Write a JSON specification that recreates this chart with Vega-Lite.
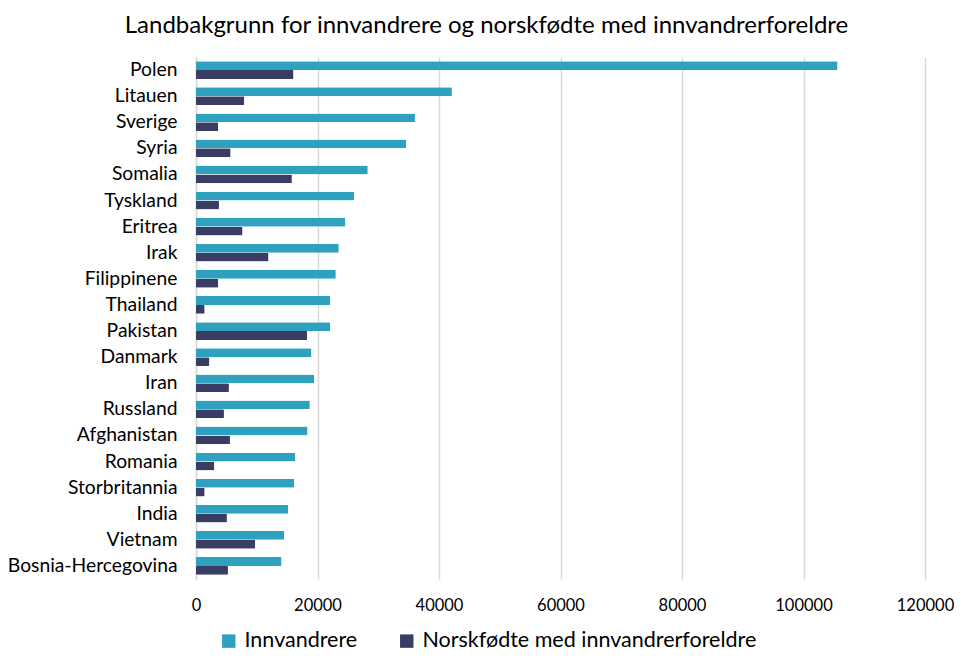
{
  "$schema": "https://vega.github.io/schema/vega-lite/v6.json",
  "width": 729,
  "height": 522,
  "autosize": {"type": "none"},
  "padding": {"left": 196, "top": 57, "right": 45, "bottom": 88},
  "background": "white",
  "title": {
    "text": "Landbakgrunn for innvandrere og norskfødte med innvandrerforeldre",
    "fontSize": 24,
    "font": "Lato",
    "fontWeight": "normal",
    "color": "#000000",
    "anchor": "middle",
    "dx": -74,
    "offset": 19
  },
  "data": {
    "values": [
      {"land": "Polen", "gruppe": "Innvandrere", "antall": 105600},
      {"land": "Polen", "gruppe": "Norskfødte med innvandrerforeldre", "antall": 16040},
      {"land": "Litauen", "gruppe": "Innvandrere", "antall": 42120},
      {"land": "Litauen", "gruppe": "Norskfødte med innvandrerforeldre", "antall": 7940},
      {"land": "Sverige", "gruppe": "Innvandrere", "antall": 36040},
      {"land": "Sverige", "gruppe": "Norskfødte med innvandrerforeldre", "antall": 3660},
      {"land": "Syria", "gruppe": "Innvandrere", "antall": 34610},
      {"land": "Syria", "gruppe": "Norskfødte med innvandrerforeldre", "antall": 5690},
      {"land": "Somalia", "gruppe": "Innvandrere", "antall": 28270},
      {"land": "Somalia", "gruppe": "Norskfødte med innvandrerforeldre", "antall": 15780},
      {"land": "Tyskland", "gruppe": "Innvandrere", "antall": 26010},
      {"land": "Tyskland", "gruppe": "Norskfødte med innvandrerforeldre", "antall": 3780},
      {"land": "Eritrea", "gruppe": "Innvandrere", "antall": 24590},
      {"land": "Eritrea", "gruppe": "Norskfødte med innvandrerforeldre", "antall": 7660},
      {"land": "Irak", "gruppe": "Innvandrere", "antall": 23500},
      {"land": "Irak", "gruppe": "Norskfødte med innvandrerforeldre", "antall": 11930},
      {"land": "Filippinene", "gruppe": "Innvandrere", "antall": 23010},
      {"land": "Filippinene", "gruppe": "Norskfødte med innvandrerforeldre", "antall": 3660},
      {"land": "Thailand", "gruppe": "Innvandrere", "antall": 22070},
      {"land": "Thailand", "gruppe": "Norskfødte med innvandrerforeldre", "antall": 1420},
      {"land": "Pakistan", "gruppe": "Innvandrere", "antall": 22070},
      {"land": "Pakistan", "gruppe": "Norskfødte med innvandrerforeldre", "antall": 18290},
      {"land": "Danmark", "gruppe": "Innvandrere", "antall": 19000},
      {"land": "Danmark", "gruppe": "Norskfødte med innvandrerforeldre", "antall": 2190},
      {"land": "Iran", "gruppe": "Innvandrere", "antall": 19440},
      {"land": "Iran", "gruppe": "Norskfødte med innvandrerforeldre", "antall": 5420},
      {"land": "Russland", "gruppe": "Innvandrere", "antall": 18730},
      {"land": "Russland", "gruppe": "Norskfødte med innvandrerforeldre", "antall": 4600},
      {"land": "Afghanistan", "gruppe": "Innvandrere", "antall": 18350},
      {"land": "Afghanistan", "gruppe": "Norskfødte med innvandrerforeldre", "antall": 5590},
      {"land": "Romania", "gruppe": "Innvandrere", "antall": 16320},
      {"land": "Romania", "gruppe": "Norskfødte med innvandrerforeldre", "antall": 3010},
      {"land": "Storbritannia", "gruppe": "Innvandrere", "antall": 16150},
      {"land": "Storbritannia", "gruppe": "Norskfødte med innvandrerforeldre", "antall": 1420},
      {"land": "India", "gruppe": "Innvandrere", "antall": 15170},
      {"land": "India", "gruppe": "Norskfødte med innvandrerforeldre", "antall": 5090},
      {"land": "Vietnam", "gruppe": "Innvandrere", "antall": 14510},
      {"land": "Vietnam", "gruppe": "Norskfødte med innvandrerforeldre", "antall": 9750},
      {"land": "Bosnia-Hercegovina", "gruppe": "Innvandrere", "antall": 14070},
      {"land": "Bosnia-Hercegovina", "gruppe": "Norskfødte med innvandrerforeldre", "antall": 5260}
    ]
  },
  "mark": {"type": "bar", "cornerRadius": 1},
  "encoding": {
    "y": {
      "field": "land",
      "type": "nominal",
      "sort": null,
      "scale": {"paddingInner": 0.32, "paddingOuter": 0.16},
      "axis": {
        "title": null,
        "ticks": false,
        "domain": true,
        "domainColor": "#d9d9d9",
        "domainWidth": 1.5,
        "labelFont": "Lato",
        "labelFontSize": 19.3,
        "labelColor": "#000000",
        "labelPadding": 19,
        "labelLimit": 300
      }
    },
    "yOffset": {
      "field": "gruppe",
      "type": "nominal",
      "sort": ["Innvandrere", "Norskfødte med innvandrerforeldre"]
    },
    "x": {
      "field": "antall",
      "type": "quantitative",
      "scale": {"domain": [0, 120000]},
      "axis": {
        "title": null,
        "values": [0, 20000, 40000, 60000, 80000, 100000, 120000],
        "format": "d",
        "ticks": false,
        "domain": false,
        "grid": true,
        "gridColor": "#d9d9d9",
        "gridWidth": 1.5,
        "labelFont": "Lato",
        "labelFontSize": 16.5,
        "labelColor": "#000000",
        "labelPadding": 18,
        "labelBound": false,
        "labelFlush": false
      }
    },
    "color": {
      "field": "gruppe",
      "type": "nominal",
      "scale": {
        "domain": ["Innvandrere", "Norskfødte med innvandrerforeldre"],
        "range": ["#2ea1bf", "#393c63"]
      },
      "legend": {
        "title": null,
        "orient": "none",
        "direction": "horizontal",
        "legendX": 22,
        "legendY": 573,
        "symbolType": "square",
        "symbolSize": 180,
        "symbolStrokeWidth": 0,
        "labelFont": "Lato",
        "labelFontSize": 21.5,
        "labelColor": "#000000",
        "labelOffset": 5,
        "labelLimit": 500,
        "columnPadding": 38
      }
    }
  },
  "config": {
    "view": {"stroke": null},
    "axis": {"labelFont": "Lato"}
  }
}
